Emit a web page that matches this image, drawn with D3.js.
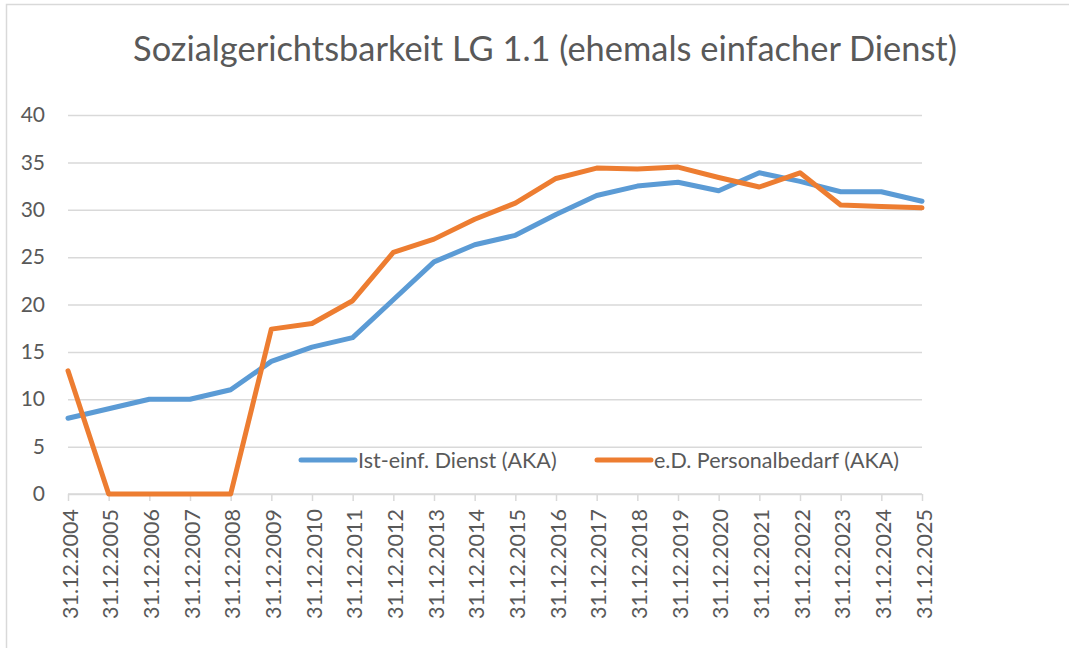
<!DOCTYPE html>
<html>
<head>
<meta charset="utf-8">
<script src="https://cdn.jsdelivr.net/npm/d3@7"></script>
<style>
  body { margin: 0; background: #fff; }
  text { font-family: Lato, "Open Sans", sans-serif; fill: #595959; }
</style>
</head>
<body>
<svg id="chart" width="1069" height="648"></svg>
<script>
// data
var title = "Sozialgerichtsbarkeit LG 1.1 (ehemals einfacher Dienst)";
var dates = ["31.12.2004", "31.12.2005", "31.12.2006", "31.12.2007", "31.12.2008",
  "31.12.2009", "31.12.2010", "31.12.2011", "31.12.2012", "31.12.2013", "31.12.2014",
  "31.12.2015", "31.12.2016", "31.12.2017", "31.12.2018", "31.12.2019", "31.12.2020",
  "31.12.2021", "31.12.2022", "31.12.2023", "31.12.2024", "31.12.2025"];
var istDienst = [8, 9, 10, 10, 11, 14, 15.5, 16.5, 20.5, 24.5, 26.3, 27.3, 29.5, 31.5,
  32.5, 32.9, 32, 33.9, 33, 31.9, 31.9, 30.9];
var personalbedarf = [13, 0, 0, 0, 0, 17.4, 18, 20.4, 25.5, 26.9, 29, 30.7, 33.3, 34.4,
  34.3, 34.5, 33.4, 32.4, 33.9, 30.5, 30.35, 30.2];
var yTicks = [0, 5, 10, 15, 20, 25, 30, 35, 40];
var seriesNames = ["Ist-einf. Dienst (AKA)", "e.D. Personalbedarf (AKA)"];
var seriesColors = ["#5b9bd5", "#ed7d31"];

var svg = d3.select("#chart");

// chart frame (only top + left edge visible in the original crop)
svg.append("rect")
  .attr("x", 6.5).attr("y", 4.5)
  .attr("width", 1100).attr("height", 700)
  .attr("fill", "none").attr("stroke", "#d9d9d9").attr("stroke-width", 1.5);

var x = d3.scalePoint().domain(dates).range([68, 922]);
var y = d3.scaleLinear().domain([0, 40]).range([494, 115]);

// title, sized to span the same width as the original
var t = svg.append("text")
  .attr("x", 545).attr("y", 61)
  .attr("text-anchor", "middle")
  .style("font-size", "30px")
  .text(title);
var w = t.node().getComputedTextLength();
t.style("font-size", (30 * 824 / w) + "px");

// gridlines + y labels
var yAxis = d3.axisLeft(y).tickValues(yTicks).tickSize(-(922 - 68)).tickPadding(23);
var gy = svg.append("g").attr("transform", "translate(68,0)").call(yAxis);
gy.select(".domain").remove();
gy.selectAll(".tick line").attr("stroke", "#d9d9d9").attr("stroke-width", 1.5);
gy.selectAll(".tick text").style("font-size", "21px").attr("fill", "#595959");

// x axis
var xAxis = d3.axisBottom(x).tickSize(7).tickPadding(0);
var gx = svg.append("g").attr("transform", "translate(0,494)").call(xAxis);
gx.select(".domain").attr("stroke", "#d9d9d9").attr("stroke-width", 1.5)
  .attr("d", "M68,0H922");
gx.selectAll(".tick line").attr("stroke", "#d9d9d9").attr("stroke-width", 1.5);
gx.selectAll(".tick text")
  .style("font-size", "21.5px")
  .attr("fill", "#595959")
  .attr("transform", "rotate(-90)")
  .attr("text-anchor", "end")
  .attr("dy", "0.35em")
  .attr("x", -15)
  .attr("y", 1.5);

// lines
var line = d3.line()
  .x(function(d, i) { return x(dates[i]); })
  .y(function(d) { return y(d); });

[istDienst, personalbedarf].forEach(function(s, k) {
  svg.append("path")
    .datum(s)
    .attr("d", line)
    .attr("fill", "none")
    .attr("stroke", seriesColors[k])
    .attr("stroke-width", 5)
    .attr("stroke-linejoin", "round")
    .attr("stroke-linecap", "round");
});

// legend
var legendX = [301, 597];
seriesNames.forEach(function(name, k) {
  var g = svg.append("g").attr("transform", "translate(" + legendX[k] + ",460)");
  g.append("line")
    .attr("x1", 0).attr("x2", 54)
    .attr("stroke", seriesColors[k]).attr("stroke-width", 5)
    .attr("stroke-linecap", "round");
  g.append("text")
    .attr("x", 57).attr("dy", "0.35em")
    .style("font-size", "21.5px")
    .text(name);
});
</script>
</body>
</html>
